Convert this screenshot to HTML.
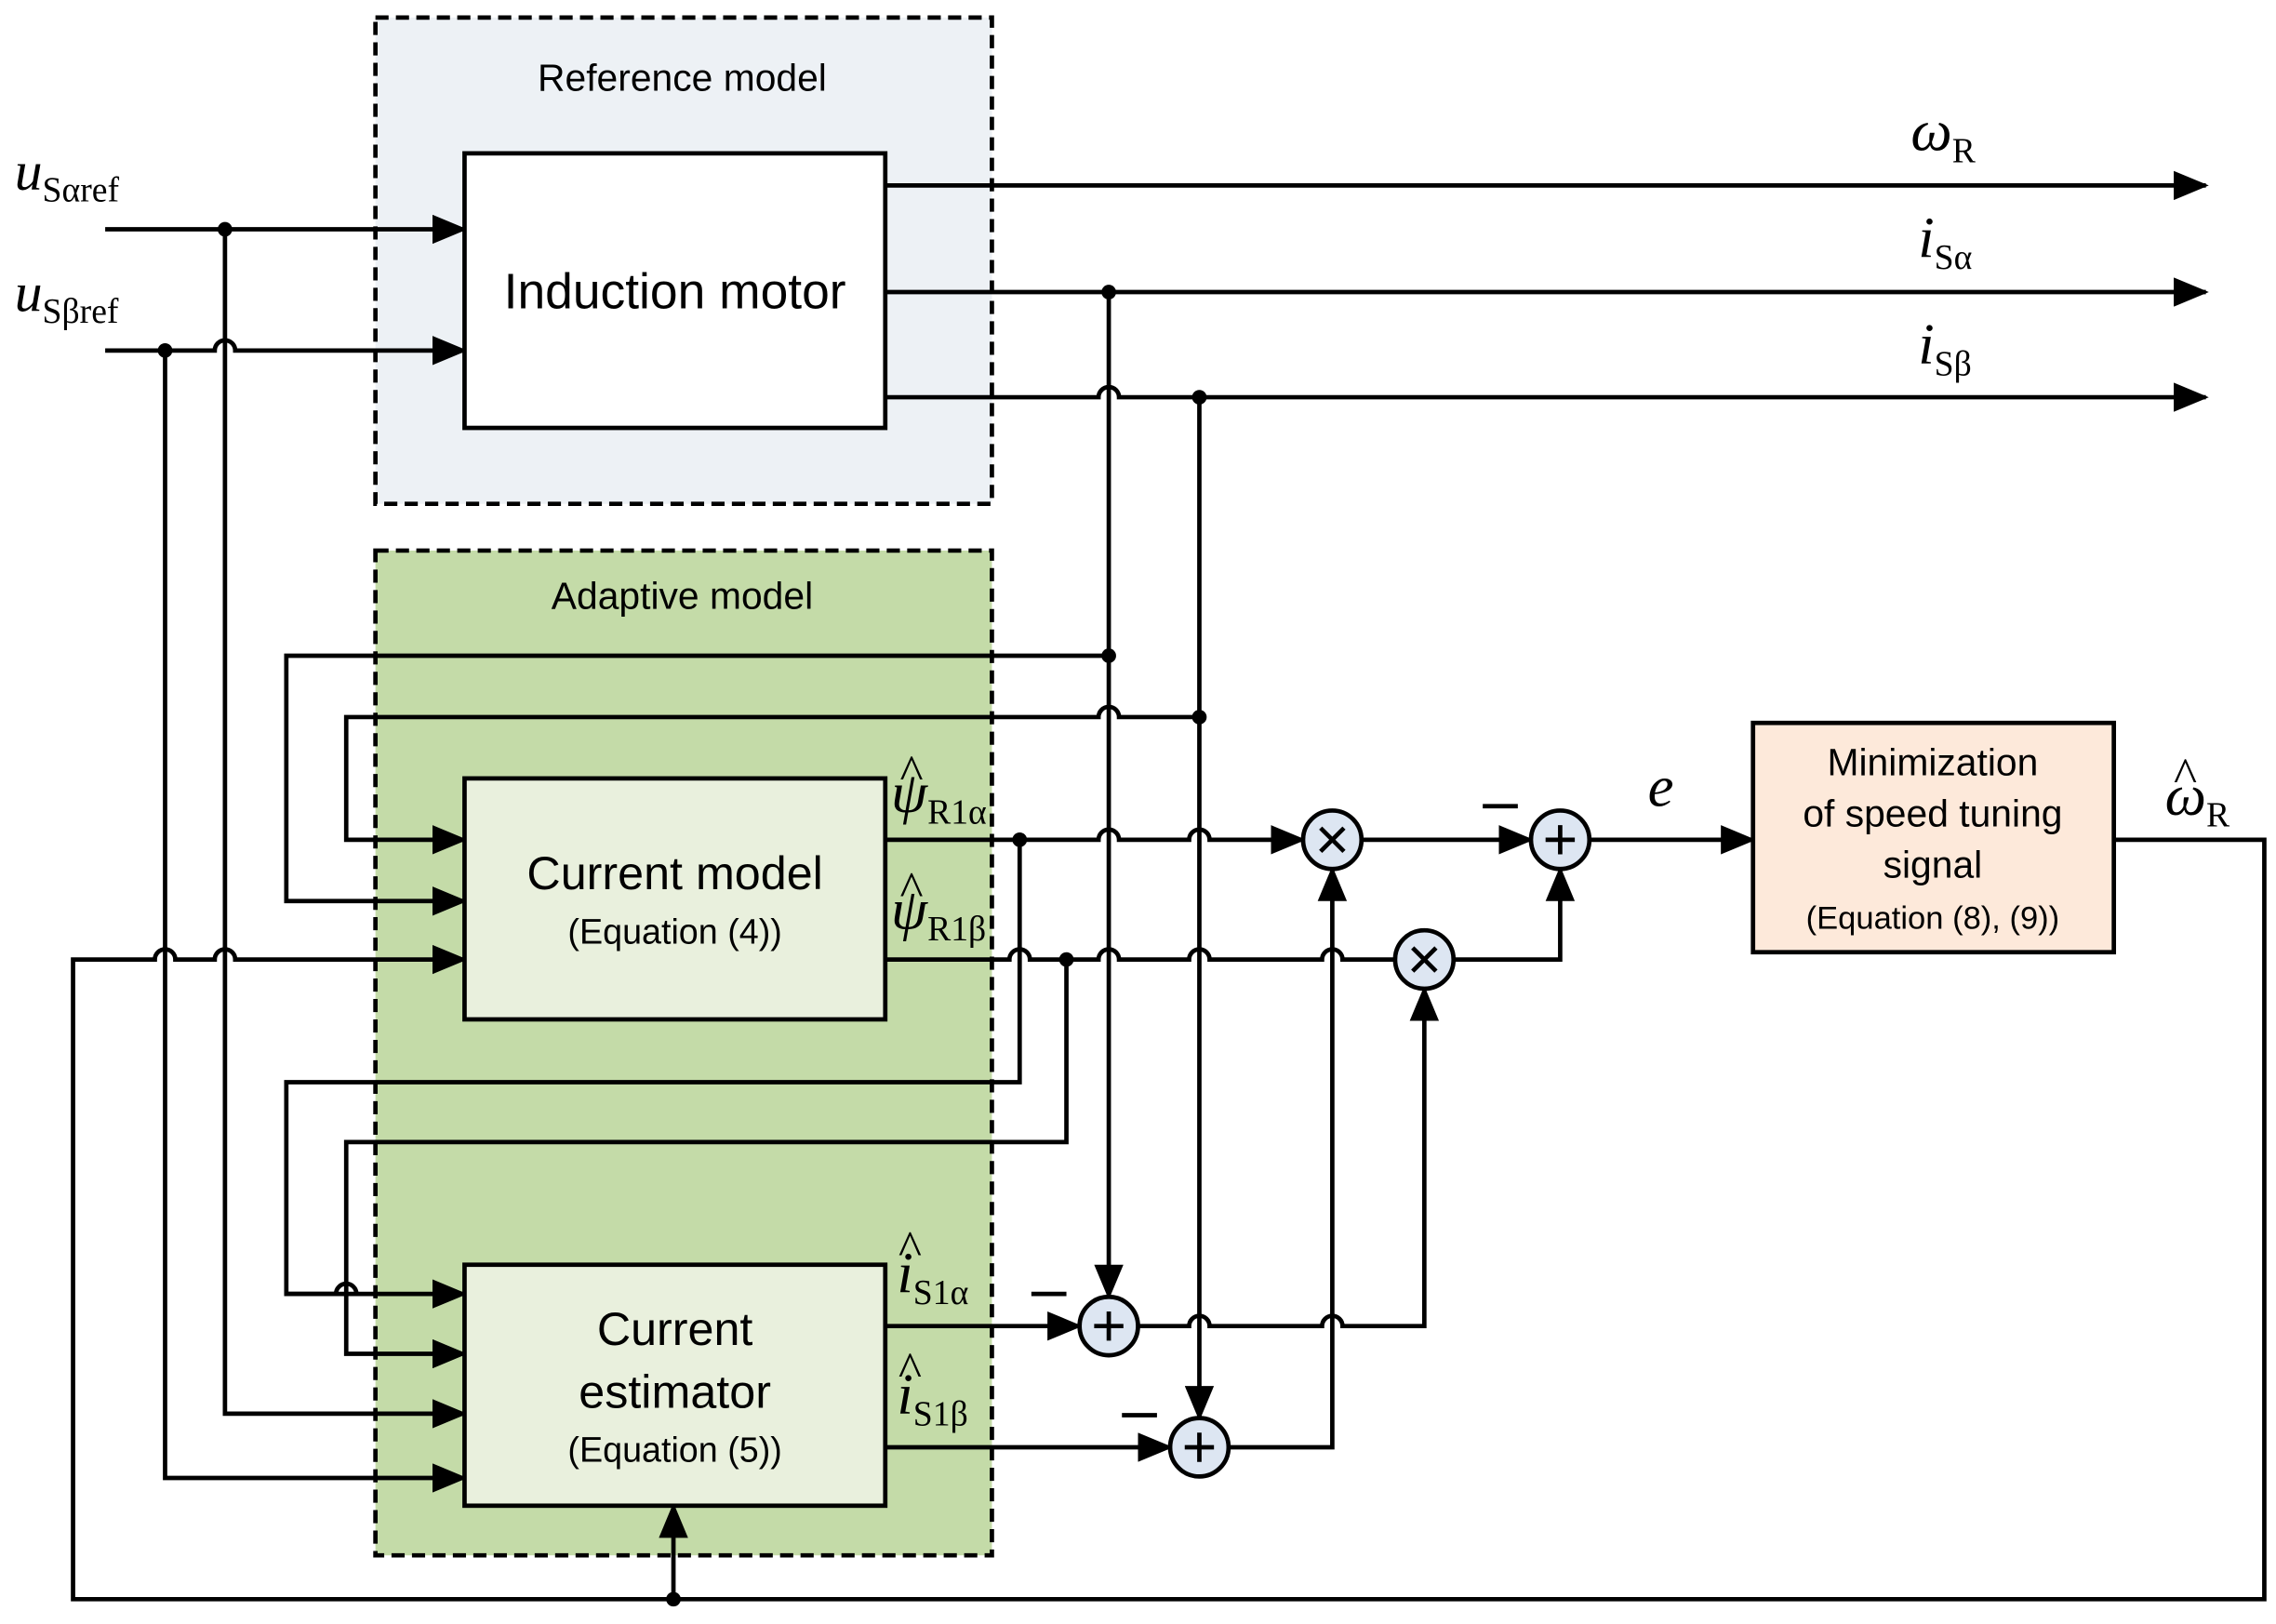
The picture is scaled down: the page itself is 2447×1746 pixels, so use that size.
<!DOCTYPE html>
<html><head><meta charset="utf-8"><style>
html,body{margin:0;padding:0;background:#fff}
svg{display:block}
text{font-family:"Liberation Sans",sans-serif;fill:#000}
.s{font-family:"Liberation Serif",serif}
</style></head><body>
<svg width="2447" height="1746" viewBox="0 0 1558 1112" preserveAspectRatio="none" xmlns="http://www.w3.org/2000/svg">
<defs>
<marker id="a" markerUnits="userSpaceOnUse" markerWidth="24" markerHeight="20" refX="22" refY="10" orient="auto">
<path d="M0,0 L24,10 L0,20 Z" fill="#000"/></marker>
</defs>
<rect x="257" y="12" width="422" height="333" fill="#edf1f5" stroke="#000" stroke-width="3" stroke-dasharray="9,5"/>
<rect x="257" y="377" width="422" height="688" fill="#c4dba8" stroke="#000" stroke-width="3" stroke-dasharray="9,5"/>
<text x="467" y="62" font-size="26" text-anchor="middle">Reference model</text>
<text x="467" y="417" font-size="26" text-anchor="middle">Adaptive model</text>

<g fill="none" stroke="#000" stroke-width="3">
<path d="M72,157 H318" marker-end="url(#a)"/>
<path d="M72,240 H147 A7,7 0 0 1 161,240 H318" marker-end="url(#a)"/>
<path d="M154,157 V968 H318" marker-end="url(#a)"/>
<path d="M113,240 V1012 H318" marker-end="url(#a)"/>
<path d="M606,127 H1510" marker-end="url(#a)"/>
<path d="M606,200 H1510" marker-end="url(#a)"/>
<path d="M606,272 H752 A7,7 0 0 1 766,272 H1510" marker-end="url(#a)"/>
<path d="M759,200 V888" marker-end="url(#a)"/>
<path d="M821,272 V971" marker-end="url(#a)"/>
<path d="M759,449 H196 V617 H318" marker-end="url(#a)"/>
<path d="M821,491 H766 A7,7 0 0 0 752,491 H237 V575 H318" marker-end="url(#a)"/>
<path d="M606,575 H752 A7,7 0 0 1 766,575 H814 A7,7 0 0 1 828,575 H892" marker-end="url(#a)"/>
<path d="M932,575 H1048" marker-end="url(#a)"/>
<path d="M1088,575 H1200" marker-end="url(#a)"/>
<path d="M606,657 H691 A7,7 0 0 1 705,657 H752 A7,7 0 0 1 766,657 H814 A7,7 0 0 1 828,657 H905 A7,7 0 0 1 919,657 H955"/>
<path d="M995,657 H1068 V595" marker-end="url(#a)"/>
<path d="M698,575 V741 H196 V886 H318" marker-end="url(#a)"/>
<path d="M730,657 V782 H237 V927 H318" marker-end="url(#a)"/>
<path d="M1447,575 H1550 V1095 H50 V657 H106 A7,7 0 0 1 120,657 H147 A7,7 0 0 1 161,657 H318" marker-end="url(#a)"/>
<path d="M461,1095 V1031" marker-end="url(#a)"/>
<path d="M606,908 H739" marker-end="url(#a)"/>
<path d="M779,908 H814 A7,7 0 0 1 828,908 H905 A7,7 0 0 1 919,908 H975 V677" marker-end="url(#a)"/>
<path d="M606,991 H801" marker-end="url(#a)"/>
<path d="M841,991 H912 V595" marker-end="url(#a)"/>
</g>
<path d="M196,886 H230 A7,7 0 0 1 244,886" fill="none" stroke="#000" stroke-width="3"/>

<rect x="318" y="105" width="288" height="188" fill="#fff" stroke="#000" stroke-width="3"/>
<text x="462" y="211" font-size="34" text-anchor="middle">Induction motor</text>
<rect x="318" y="533" width="288" height="165" fill="#e9f0dd" stroke="#000" stroke-width="3"/>
<text x="462" y="609" font-size="32" text-anchor="middle">Current model</text>
<text x="462" y="646" font-size="24" text-anchor="middle">(Equation (4))</text>
<rect x="318" y="866" width="288" height="165" fill="#e9f0dd" stroke="#000" stroke-width="3"/>
<text x="462" y="921" font-size="32" text-anchor="middle">Current</text>
<text x="462" y="964" font-size="32" text-anchor="middle">estimator</text>
<text x="462" y="1001" font-size="24" text-anchor="middle">(Equation (5))</text>
<rect x="1200" y="495" width="247" height="157" fill="#fde9da" stroke="#000" stroke-width="3"/>
<text x="1323" y="531" font-size="26" text-anchor="middle">Minimization</text>
<text x="1323" y="566" font-size="26" text-anchor="middle">of speed tuning</text>
<text x="1323" y="601" font-size="26" text-anchor="middle">signal</text>
<text x="1323" y="636" font-size="22" text-anchor="middle">(Equation (8), (9))</text>

<g stroke="#000" stroke-width="3" fill="#dde6f2">
<circle cx="912" cy="575" r="20"/><circle cx="975" cy="657" r="20"/>
<circle cx="1068" cy="575" r="20"/><circle cx="759" cy="908" r="20"/><circle cx="821" cy="991" r="20"/>
</g>
<g stroke="#000" stroke-width="3">
<path d="M904,567 L920,583 M920,567 L904,583"/>
<path d="M967,649 L983,665 M983,649 L967,665"/>
<path d="M1058,575 H1078 M1068,565 V585"/>
<path d="M749,908 H769 M759,898 V918"/>
<path d="M811,991 H831 M821,981 V1001"/>
<path d="M706,886 H730 M768,969 H792 M1015,552 H1039"/>
</g>
<g fill="#000">
<circle cx="154" cy="157" r="5"/><circle cx="113" cy="240" r="5"/>
<circle cx="759" cy="200" r="5"/><circle cx="821" cy="272" r="5"/>
<circle cx="759" cy="449" r="5"/><circle cx="821" cy="491" r="5"/>
<circle cx="698" cy="575" r="5"/><circle cx="730" cy="657" r="5"/>
<circle cx="461" cy="1095" r="5"/>
</g>

<text class="s" x="10" y="130" font-size="38" font-style="italic">u<tspan font-size="24" font-style="normal" dy="8">Sαref</tspan></text>
<text class="s" x="10" y="213" font-size="38" font-style="italic">u<tspan font-size="24" font-style="normal" dy="8">Sβref</tspan></text>
<text class="s" x="1308" y="103" font-size="40" font-style="italic">ω<tspan font-size="24" font-style="normal" dy="8">R</tspan></text>
<text class="s" x="1313" y="176" font-size="40" font-style="italic">i<tspan font-size="24" font-style="normal" dy="8">Sα</tspan></text>
<text class="s" x="1313" y="249" font-size="40" font-style="italic">i<tspan font-size="24" font-style="normal" dy="8">Sβ</tspan></text>
<text class="s" x="610" y="556" font-size="40" font-style="italic">ψ<tspan font-size="24" font-style="normal" dy="8">R1α</tspan></text>
<text class="s" x="616" y="540" font-size="34">^</text>
<text class="s" x="610" y="636" font-size="40" font-style="italic">ψ<tspan font-size="24" font-style="normal" dy="8">R1β</tspan></text>
<text class="s" x="616" y="620" font-size="34">^</text>
<text class="s" x="614" y="885" font-size="40" font-style="italic">i<tspan font-size="24" font-style="normal" dy="8">S1α</tspan></text>
<text class="s" x="615" y="866" font-size="34">^</text>
<text class="s" x="614" y="968" font-size="40" font-style="italic">i<tspan font-size="24" font-style="normal" dy="8">S1β</tspan></text>
<text class="s" x="615" y="949" font-size="34">^</text>
<text class="s" x="1128" y="552" font-size="40" font-style="italic">e</text>
<text class="s" x="1482" y="558" font-size="40" font-style="italic">ω<tspan font-size="24" font-style="normal" dy="8">R</tspan></text>
<text class="s" x="1488" y="542" font-size="34">^</text>
</svg>
</body></html>
